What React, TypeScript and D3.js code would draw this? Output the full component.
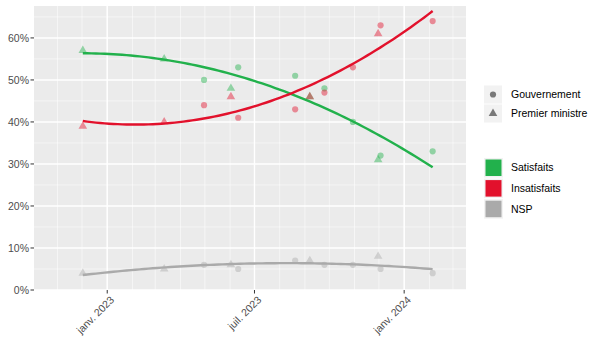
import React from "react";
import * as d3 from "d3";

const dates = ["2022-12-02","2023-03-12","2023-04-30","2023-06-02","2023-06-11","2023-08-20","2023-09-07","2023-09-25","2023-10-30","2023-11-30","2023-12-03","2024-02-05"];
const sources = ["Premier ministre","Premier ministre","Gouvernement","Premier ministre","Gouvernement","Gouvernement","Premier ministre","Gouvernement","Gouvernement","Premier ministre","Gouvernement","Gouvernement"];
const satisfaits = [57,55,50,48,53,51,46,48,40,31,32,33];
const insatisfaits = [39,40,44,46,41,43,46,47,53,61,63,64];
const nsp = [4,5,6,6,5,7,7,6,6,8,5,4];

const seriesNames = ["Satisfaits","Insatisfaits","NSP"];
const seriesColors = ["#22B14C","#E2112C","#AAAAAA"];
const shapeNames = ["Gouvernement","Premier ministre"];
const yTicks = [0,10,20,30,40,50,60];
const yMinor = [5,15,25,35,45,55,65];
const yDomain = [0, 67.6];
const xTickDates = ["2023-01-01","2023-07-01","2024-01-01"];
const xTickLabels = ["janv. 2023","juil. 2023","janv. 2024"];
const xDomain = ["2022-10-03","2024-03-17"];

const W = 600, H = 343;
const P = { l: 34, r: 466, t: 6, b: 290 };
const FONT = "'Liberation Sans', Arial, sans-serif";
const DAY = 86400000;

function solve3(A: number[][], b: number[]) {
  const M = A.map((r, i) => [...r, b[i]]);
  for (let i = 0; i < 3; i++) {
    let p = i;
    for (let k = i + 1; k < 3; k++) if (Math.abs(M[k][i]) > Math.abs(M[p][i])) p = k;
    [M[i], M[p]] = [M[p], M[i]];
    for (let k = i + 1; k < 3; k++) {
      const f = M[k][i] / M[i][i];
      for (let j = i; j < 4; j++) M[k][j] -= f * M[i][j];
    }
  }
  const x = [0, 0, 0];
  for (let i = 2; i >= 0; i--) {
    let s = M[i][3];
    for (let j = i + 1; j < 3; j++) s -= M[i][j] * x[j];
    x[i] = s / M[i][i];
  }
  return x;
}

// global quadratic least-squares fit (smooth trend)
function quadFit(xs: number[], ys: number[]) {
  const m = d3.mean(xs)!;
  const s = (d3.max(xs)! - d3.min(xs)!) || 1;
  const A = [[0,0,0],[0,0,0],[0,0,0]];
  const b = [0,0,0];
  xs.forEach((xv, i) => {
    const t = (xv - m) / s;
    const p = [1, t, t * t];
    for (let r = 0; r < 3; r++) {
      b[r] += p[r] * ys[i];
      for (let c = 0; c < 3; c++) A[r][c] += p[r] * p[c];
    }
  });
  const c = solve3(A, b);
  return (x0: number) => { const t = (x0 - m) / s; return c[0] + c[1] * t + c[2] * t * t; };
}

export default function App() {
  const parse = (s: string) => new Date(s + "T00:00:00Z");
  const dts = dates.map(parse);
  const days = dts.map((d) => d.getTime() / DAY);
  const values = [satisfaits, insatisfaits, nsp];

  const fits = values.map((v) => {
    const f = quadFit(days, v);
    const lo = d3.min(days)!, hi = d3.max(days)!;
    return d3.range(0, 81).map((i) => {
      const xv = lo + ((hi - lo) * i) / 80;
      return [xv, f(xv)] as [number, number];
    });
  });

  const x = d3.scaleUtc().domain(xDomain.map(parse)).range([P.l, P.r]);
  const y = d3.scaleLinear().domain(yDomain).range([P.b, P.t]);

  const minorMonths = d3.utcMonth.range(parse(xDomain[0]), parse(xDomain[1]));
  const line = d3.line<[number, number]>().x((p) => x(new Date(p[0] * DAY))).y((p) => y(p[1]));

  const sym = (s: string) => s === "Gouvernement"
    ? d3.symbol(d3.symbolCircle, 30)()
    : d3.symbol(d3.symbolTriangle, 32)();

  return (
    <svg width={W} height={H} style={{ position: "absolute", left: 0, top: 0, background: "#fff" }}>
      <defs>
        <clipPath id="panel"><rect x={P.l} y={P.t} width={P.r - P.l} height={P.b - P.t} /></clipPath>
      </defs>
      <rect x={P.l} y={P.t} width={P.r - P.l} height={P.b - P.t} fill="#EBEBEB" />
      {yMinor.filter((v) => v <= yDomain[1]).map((v) => (
        <line key={"ym" + v} x1={P.l} x2={P.r} y1={y(v)} y2={y(v)} stroke="#fff" strokeWidth={0.7} opacity={0.8} />
      ))}
      {minorMonths.map((m, i) => (
        <line key={"xm" + i} x1={x(m)} x2={x(m)} y1={P.t} y2={P.b} stroke="#fff" strokeWidth={0.7} opacity={0.8} />
      ))}
      {yTicks.map((v) => (
        <line key={"y" + v} x1={P.l} x2={P.r} y1={y(v)} y2={y(v)} stroke="#fff" strokeWidth={1.4} />
      ))}
      {xTickDates.map((s) => (
        <line key={"x" + s} x1={x(parse(s))} x2={x(parse(s))} y1={P.t} y2={P.b} stroke="#fff" strokeWidth={1.4} />
      ))}
      <g clipPath="url(#panel)">
        {values.map((v, si) => v.map((val, i) => (
          <path key={si + "-" + i} d={sym(sources[i])!} transform={`translate(${x(dts[i])},${y(val)})`}
            fill={seriesColors[si]} opacity={0.45} />
        )))}
        {fits.map((f, si) => (
          <path key={"f" + si} d={line(f)!} fill="none" stroke={seriesColors[si]} strokeWidth={2.4} />
        ))}
      </g>
      {yTicks.map((v) => (
        <g key={"yl" + v}>
          <line x1={P.l - 3.5} x2={P.l} y1={y(v)} y2={y(v)} stroke="#333" strokeWidth={1} />
          <text x={P.l - 5} y={y(v)} dy="0.35em" textAnchor="end" fontFamily={FONT} fontSize={10.5} fill="#4D4D4D">{v}%</text>
        </g>
      ))}
      {xTickDates.map((s, i) => {
        const px = x(parse(s));
        return (
          <g key={"xl" + s}>
            <line x1={px} x2={px} y1={P.b} y2={P.b + 3.5} stroke="#333" strokeWidth={1} />
            <text transform={`translate(${px + 2},${P.b + 5}) rotate(-45)`} dy="0.75em" textAnchor="end"
              fontFamily={FONT} fontSize={10.5} fill="#4D4D4D">{xTickLabels[i]}</text>
          </g>
        );
      })}
      {shapeNames.map((s, i) => (
        <g key={"ls" + s} transform={`translate(484,${85.5 + i * 19})`}>
          <rect width={18} height={18} fill="#F2F2F2" />
          <path d={sym(s)!} transform="translate(9,9)" fill="#000" opacity={0.5} />
          <text x={27} y={9} dy="0.35em" fontFamily={FONT} fontSize={10.5} fill="#000">{s}</text>
        </g>
      ))}
      {seriesNames.map((s, i) => (
        <g key={"lf" + s} transform={`translate(484,${158 + i * 20.6})`}>
          <rect width={19} height={19.5} fill="#F2F2F2" />
          <rect x={1.5} y={1.5} width={16} height={16.5} fill={seriesColors[i]} />
          <text x={27} y={9.75} dy="0.35em" fontFamily={FONT} fontSize={10.5} fill="#000">{s}</text>
        </g>
      ))}
    </svg>
  );
}
